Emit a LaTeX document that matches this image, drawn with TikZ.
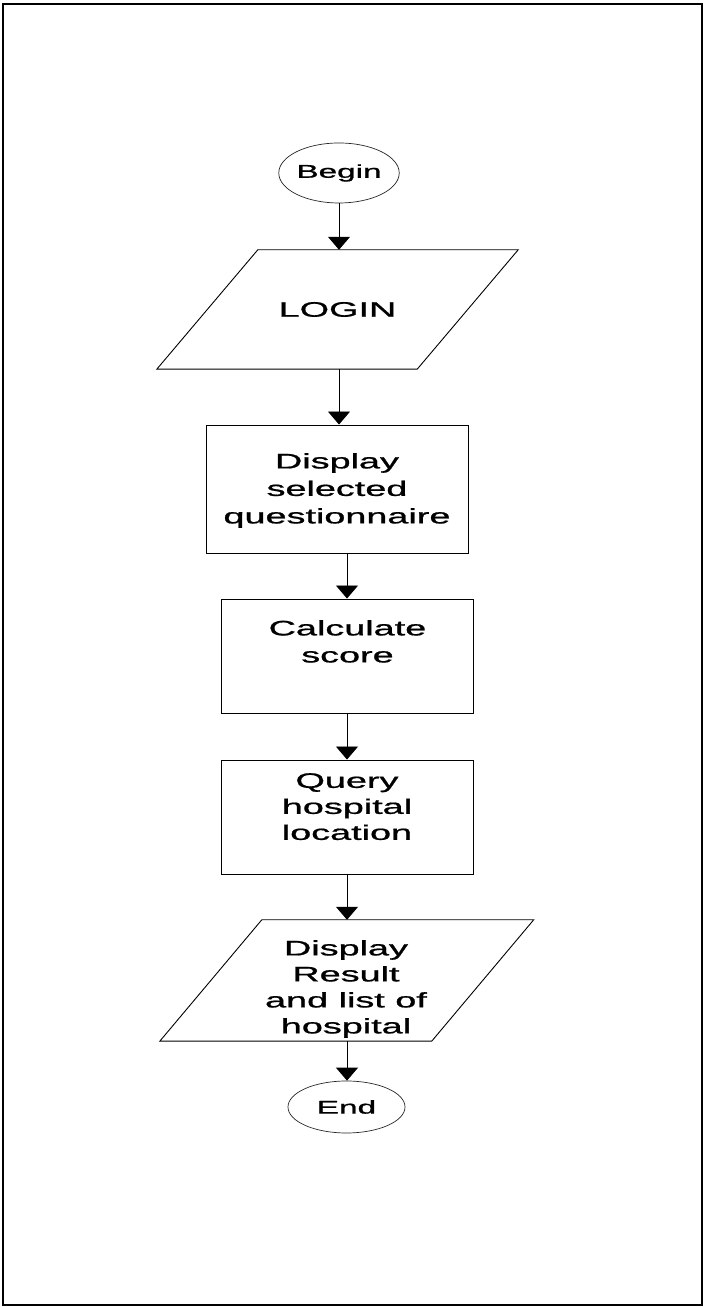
\documentclass[tikz,border=0pt]{standalone}
\usepackage{fontspec}
\usepackage{graphicx}
\setmainfont[FakeBold=0.8]{Liberation Sans}
\usetikzlibrary{arrows.meta,shapes.geometric,calc}
\newcommand{\widetxt}[1]{\scalebox{1.8}[1]{#1}}
\tikzset{
  ln/.style={line width=0.9pt, draw=black},
  term/.style={ellipse, line width=0.7pt, draw=black!85, inner sep=0pt, font=\fontsize{18.5}{22}\selectfont},
  procbox/.style={rectangle, ln, inner sep=0pt},
  iobox/.style={rectangle, inner sep=0pt, font=\fontsize{21}{26}\selectfont},
  txt/.style={inner sep=0pt, align=center, font=\fontsize{21}{26}\selectfont},
  arr/.style={ln, -{Triangle[width=22pt,length=13pt]}}
}
\begin{document}
\begin{tikzpicture}[x=1pt,y=1pt]
\useasboundingbox (0,0) rectangle (704,1307);
\node[draw=black, line width=2pt, minimum width=699pt, minimum height=1301pt, inner sep=0pt] (frame) at (352.5,652.5) {};

% terminals
\node[term, minimum width=118pt, minimum height=60pt] (begin) at (339,1134) {\widetxt{Begin}};
\node[term, minimum width=117pt, minimum height=52pt] (end) at (346.5,200) {\widetxt{End}};

% LOGIN parallelogram
\node[iobox, minimum width=260pt, minimum height=119pt] (login) at (337.5,997.5) {\widetxt{LOGIN}};
\draw[ln] ($(login.north west)+(50.5,0)$) -- ($(login.north east)+(50.5,0)$)
  -- ($(login.south east)+(-50.5,0)$) -- ($(login.south west)+(-50.5,0)$) -- cycle;

% process boxes
\node[procbox, minimum width=262pt, minimum height=128pt] (disp) at (337,818) {};
\node[txt, anchor=north, font=\fontsize{21}{27.5}\selectfont] (dispT) at (337,854) {\widetxt{Display}\\\widetxt{selected}\\\widetxt{questionnaire}};

\node[procbox, minimum width=252pt, minimum height=114pt] (calc) at (347,651) {};
\node[txt, anchor=north, font=\fontsize{21}{27}\selectfont] (calcT) at (347.5,687) {\widetxt{Calculate}\\\widetxt{score}};

\node[procbox, minimum width=252pt, minimum height=114pt] (query) at (347,490) {};
\node[txt, anchor=north] (queryT) at (347,534) {\widetxt{Query}\\\widetxt{hospital}\\\widetxt{location}};

% result parallelogram
\node[iobox, minimum width=271.5pt, minimum height=121pt] (result) at (346.75,326.5) {};
\draw[ln] ($(result.north west)+(51,0)$) -- ($(result.north east)+(51,0)$)
  -- ($(result.south east)+(-51,0)$) -- ($(result.south west)+(-51,0)$) -- cycle;
\node[txt, anchor=north] (resultT) at (346,367) {\widetxt{Display}\\\widetxt{Result}\\\widetxt{and list of}\\\widetxt{hospital}};

% connectors
\draw[arr] (begin.south) -- (begin.south |- login.north);
\draw[arr] (begin.south |- login.south) -- (begin.south |- disp.north);
\draw[arr] (calc.north |- disp.south) -- (calc.north);
\draw[arr] (calc.south) -- (query.north);
\draw[arr] (query.south) -- (query.south |- result.north);
\draw[arr] (query.south |- result.south) -- (query.south |- end.north);
\end{tikzpicture}
\end{document}
